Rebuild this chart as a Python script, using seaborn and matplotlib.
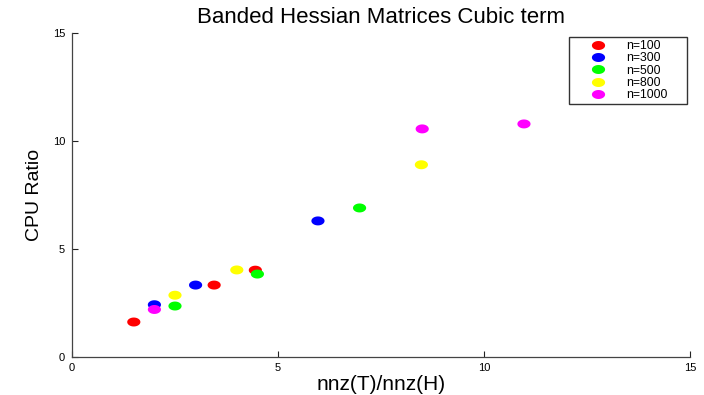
import numpy as np
import pandas as pd
import matplotlib
matplotlib.use("Agg")
import matplotlib.pyplot as plt
from matplotlib.path import Path
from matplotlib.lines import Line2D
import seaborn as sns

series = ["n=100", "n=300", "n=500", "n=800", "n=1000"]
colors = ["#ff0000", "#0000ff", "#00ff00", "#ffff00", "#ff00ff"]
x_100 = [1.5, 3.45, 4.45]
y_100 = [1.62, 3.33, 4.02]
x_300 = [2.0, 3.0, 5.97]
y_300 = [2.42, 3.33, 6.3]
x_500 = [2.5, 4.5, 6.98]
y_500 = [2.36, 3.84, 6.9]
x_800 = [2.5, 4.0, 8.48]
y_800 = [2.86, 4.03, 8.9]
x_1000 = [2.0, 8.5, 10.97]
y_1000 = [2.2, 10.56, 10.79]
xticks = [0, 5, 10, 15]
yticks = [0, 5, 10, 15]

xs = [x_100, x_300, x_500, x_800, x_1000]
ys = [y_100, y_300, y_500, y_800, y_1000]
df = pd.DataFrame({
    "x": sum(xs, []),
    "y": sum(ys, []),
    "n": sum([[s] * len(v) for s, v in zip(series, xs)], []),
})

sns.set_style("white")
plt.rcParams["font.family"] = ["Liberation Sans", "DejaVu Sans"]
plt.rcParams["text.color"] = "black"
plt.rcParams["axes.labelcolor"] = "black"

# elliptical marker
t = np.linspace(0, 2 * np.pi, 60)
verts = np.column_stack([np.cos(t), 0.68 * np.sin(t)])
ell = Path(verts, closed=True)

fig = plt.figure(figsize=(7.04, 3.95), dpi=100)
ax = fig.add_axes([72 / 704, 1 - 357 / 395, (690 - 72) / 704, (357 - 33) / 395])
sns.scatterplot(data=df, x="x", y="y", hue="n", hue_order=series,
                palette=colors, marker=ell, s=90, linewidth=0,
                legend=False, ax=ax, zorder=3)

ax.set_xlim(0, 15)
ax.set_ylim(0, 15)
ax.set_xticks(xticks)
ax.set_yticks(yticks)
ax.tick_params(direction="in", length=4, width=0.8, labelsize=8,
               bottom=True, left=True, top=False, right=False,
               colors="#222222", labelcolor="black")
ax.tick_params(axis="x", pad=4)
ax.tick_params(axis="y", pad=5)
for s in ["top", "right"]:
    ax.spines[s].set_visible(False)
for s in ["left", "bottom"]:
    ax.spines[s].set_color("#444444")
    ax.spines[s].set_linewidth(0.9)

ax.set_xlabel("nnz(T)/nnz(H)", fontsize=15, labelpad=2)
ax.set_ylabel("CPU Ratio", fontsize=14, labelpad=7)
ax.set_title("Banded Hessian Matrices Cubic term", fontsize=16, pad=7)

handles = [Line2D([], [], linestyle="none", marker=ell, markersize=9.5,
                  markerfacecolor=c, markeredgewidth=0) for c in colors]
x0 = (569 - 72) / 618
x1 = (687 - 72) / 618
ytop = (357 - 37) / 324
leg = ax.legend(handles, series, loc="upper left",
                bbox_to_anchor=(x0, ytop - 0.2, x1 - x0, 0.2), mode="expand",
                fontsize=8.8, frameon=True, fancybox=False, handlelength=4.2,
                handletextpad=0.2, borderpad=0.25, labelspacing=0.02,
                borderaxespad=0.0)
leg.get_frame().set_edgecolor("black")
leg.get_frame().set_linewidth(1.0)

fig.savefig("out.png", dpi=100)
